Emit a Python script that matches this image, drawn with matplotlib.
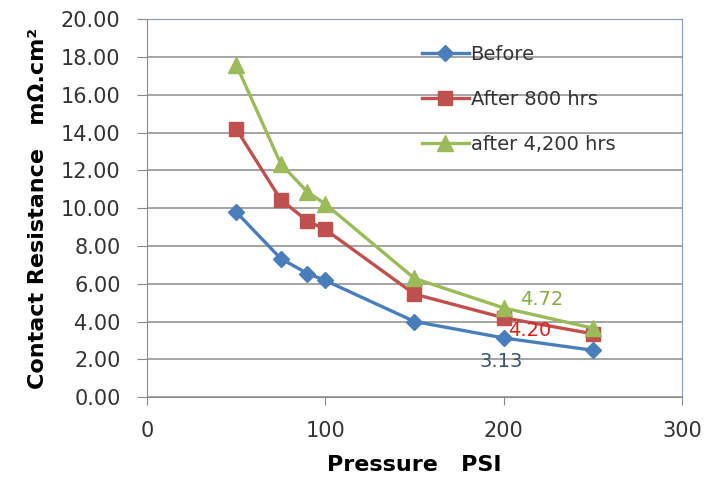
import matplotlib.pyplot as plt

plt.rcParams['font.family'] = ['DejaVu Sans']

pressure = [50, 75, 90, 100, 150, 200, 250]
before = [9.80, 7.33, 6.54, 6.17, 4.00, 3.13, 2.48]
after_800 = [14.20, 10.45, 9.32, 8.87, 5.45, 4.20, 3.35]
after_4200 = [17.60, 12.35, 10.85, 10.22, 6.28, 4.72, 3.65]

fig = plt.figure(figsize=(7.17, 4.79), dpi=100)
ax = fig.add_axes([0.205, 0.171, 0.746, 0.789])

ax.plot(pressure, before, color='#4a7ebb', lw=2.4, marker='D', ms=8.5,
        label='Before', zorder=3)
ax.plot(pressure, after_800, color='#c0504d', lw=2.4, marker='s', ms=10,
        label='After 800 hrs', zorder=3)
ax.plot(pressure, after_4200, color='#9bbb59', lw=2.4, marker='^', ms=11,
        label='after 4,200 hrs', zorder=3)

# value labels at 200 psi
i = pressure.index(200)
ax.annotate(f"{before[i]:.2f}", (pressure[i], before[i]), xytext=(-2, -17),
            textcoords='offset points', ha='center', va='center',
            fontsize=14, color='#3d5273')
ax.annotate(f"{after_800[i]:.2f}", (pressure[i], after_800[i]), xytext=(3, -9),
            textcoords='offset points', ha='left', va='center',
            fontsize=14, color='#e0201b')
ax.annotate(f"{after_4200[i]:.2f}", (pressure[i], after_4200[i]), xytext=(12, 6),
            textcoords='offset points', ha='left', va='center',
            fontsize=14, color='#8aa84a')

ax.set_xlim(0, 300)
ax.set_ylim(0, 20)
ax.set_xticks([0, 100, 200, 300])
ax.set_yticks(range(0, 21, 2))
ax.set_yticklabels([f"{v:.2f}" for v in range(0, 21, 2)])
ax.tick_params(labelsize=15, colors='#333333', color='#888888')
ax.tick_params(axis='y', length=7, pad=12)
ax.tick_params(axis='x', length=6, pad=11)

ax.grid(axis='y', color='#8c8c8c', lw=1.1)
ax.set_axisbelow(True)
for side in ['left', 'bottom']:
    ax.spines[side].set_color('#8c8c8c')
for side in ['top', 'right']:
    ax.spines[side].set_color('#7f9cc4')

ax.set_xlabel('Pressure   PSI', fontsize=16, fontweight='bold', labelpad=10)
ax.set_ylabel('Contact Resistance   mΩ.cm²', fontsize=16, fontweight='bold',
              labelpad=9)

leg = ax.legend(loc='center left', bbox_to_anchor=(0.514, 0.788), frameon=False,
                fontsize=14, labelspacing=1.35, handlelength=2.4,
                handletextpad=0.1, borderaxespad=0, borderpad=0)
for t in leg.get_texts():
    t.set_color('#333333')

fig.savefig('out.png', dpi=100)
